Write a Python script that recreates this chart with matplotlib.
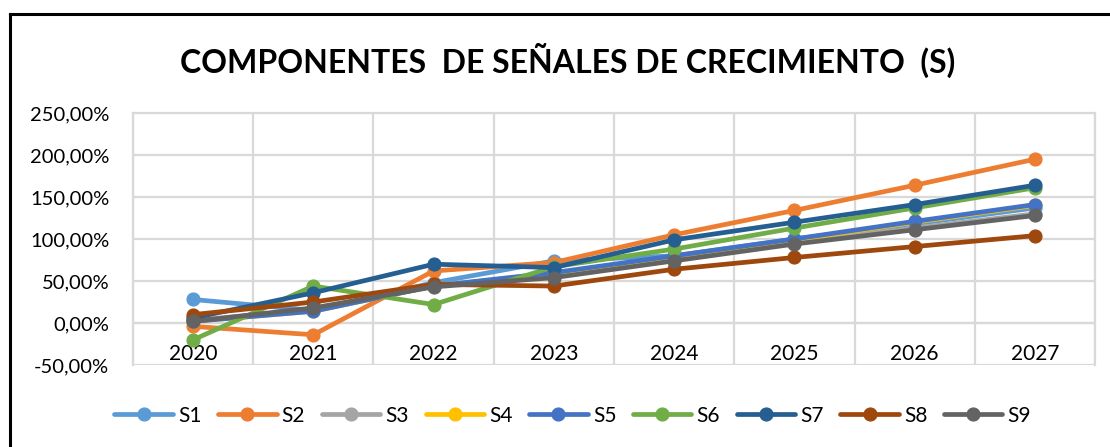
import matplotlib
matplotlib.use('Agg')
import matplotlib.pyplot as plt
from matplotlib.lines import Line2D
from matplotlib.ticker import FixedLocator, FuncFormatter

years = ['2020', '2021', '2022', '2023', '2024', '2025', '2026', '2027']
series_names = ['S1', 'S2', 'S3', 'S4', 'S5', 'S6', 'S7', 'S8', 'S9']

# growth signal components, in percent
s1 = [28, 15, 48, 74, 80, 100, 118, 137]
s2 = [-4, -14, 62, 72, 105, 134, 164, 195]
s3 = [3, 16, 44, 56, 75, 95, 113, 130]
s4 = [2, 14, 44, 59, 79, 99, 120, 140]
s5 = [2, 14, 44, 60, 80, 100, 121, 141]
s6 = [-20, 44, 22, 67, 88, 113, 137, 161]
s7 = [6, 36, 70, 66, 99, 120, 141, 164]
s8 = [10, 25, 46, 44, 64, 78, 91, 104]
s9 = [2, 18, 43, 54, 74, 94, 111, 128]
all_series = [s1, s2, s3, s4, s5, s6, s7, s8, s9]

colors = ['#5B9BD5', '#ED7D31', '#A5A5A5', '#FFC000', '#4472C4',
          '#70AD47', '#255E91', '#9E480E', '#636363']

plt.rcParams['font.family'] = ['Lato', 'DejaVu Sans']
grid_col = '#D9D9D9'

fig = plt.figure(figsize=(11.1, 4.47), dpi=100)
ax = fig.add_axes([0.1198, 0.1834, 0.8667, 0.5638])

x = list(range(len(years)))
for name, vals, col in zip(series_names, all_series, colors):
    ax.plot(x, vals, color=col, lw=3.4, marker='o', ms=9.2,
            solid_capstyle='round', label=name)

ax.set_xlim(-0.5, len(years) - 0.5)
ax.set_ylim(-50, 250)
ax.yaxis.set_major_locator(FixedLocator(range(-50, 251, 50)))
ax.yaxis.set_major_formatter(FuncFormatter(lambda v, p: f'{v:.2f}%'.replace('.', ',')))
ax.tick_params(axis='y', length=0, pad=17, labelsize=14.5)

# category axis crosses at 0, labels sit just under it
ax.spines['bottom'].set_position(('data', 0))
ax.set_xticks(x)
ax.set_xticklabels(years)
ax.xaxis.set_minor_locator(FixedLocator([i - 0.5 for i in range(len(years) + 1)]))
ax.tick_params(axis='x', which='both', length=0, pad=15, labelsize=15)

ax.grid(True, axis='y', which='major', color=grid_col, lw=1.6)
ax.grid(True, axis='x', which='minor', color=grid_col, lw=1.6)
ax.set_axisbelow(True)
for sp in ax.spines.values():
    sp.set_color(grid_col)
    sp.set_linewidth(1.6)
ax.spines['bottom'].set_zorder(0.5)

fig.text(0.511, 0.866, 'COMPONENTES  DE SEÑALES DE CRECIMIENTO  (S)',
         ha='center', va='center', fontsize=23, fontweight='bold')

fig.legend(loc='center', bbox_to_anchor=(0.516, 0.07), ncol=9, frameon=False,
           fontsize=15, handlelength=2.8, handletextpad=0.25, columnspacing=0.8)

# chart border (left and top edges visible in the crop)
fig.add_artist(Line2D([0.009, 0.009], [-0.1, 0.969], color='black', lw=2.2,
                      transform=fig.transFigure))
fig.add_artist(Line2D([0.009, 1.1], [0.969, 0.969], color='black', lw=2.2,
                      transform=fig.transFigure))

fig.savefig('out.png', dpi=100)
